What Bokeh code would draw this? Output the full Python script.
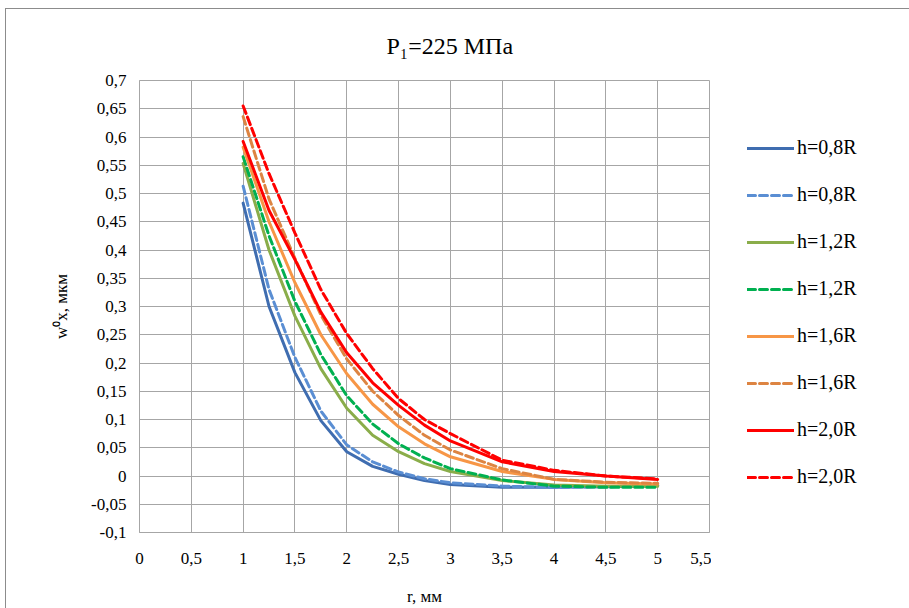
from bokeh.plotting import figure
from bokeh.layouts import row
from bokeh.models import (Legend, LegendItem, FixedTicker, CustomJSTickFormatter, Title)
from bokeh.embed import file_html
from bokeh.resources import INLINE

# ---- data ----
r = [1, 1.25, 1.5, 1.75, 2, 2.25, 2.5, 2.75, 3, 3.5, 4, 4.5, 5]

blue_solid   = [0.483, 0.300, 0.183, 0.098, 0.043, 0.017, 0.003, -0.008, -0.015, -0.020, -0.020, -0.019, -0.017]
blue_dashed  = [0.513, 0.330, 0.210, 0.115, 0.055, 0.025, 0.007, -0.005, -0.012, -0.018, -0.020, -0.019, -0.017]
green_solid  = [0.553, 0.400, 0.283, 0.190, 0.120, 0.072, 0.043, 0.022, 0.008, -0.008, -0.016, -0.018, -0.018]
green_dashed = [0.565, 0.425, 0.309, 0.215, 0.142, 0.092, 0.057, 0.032, 0.013, -0.007, -0.018, -0.020, -0.020]
orange_solid = [0.582, 0.450, 0.342, 0.250, 0.181, 0.127, 0.087, 0.057, 0.034, 0.008, -0.006, -0.012, -0.014]
orange_dashed= [0.636, 0.490, 0.385, 0.285, 0.207, 0.150, 0.107, 0.072, 0.046, 0.013, -0.006, -0.011, -0.013]
red_solid    = [0.592, 0.470, 0.383, 0.290, 0.218, 0.165, 0.125, 0.090, 0.062, 0.025, 0.008, 0.000, -0.006]
red_dashed   = [0.655, 0.535, 0.430, 0.330, 0.252, 0.190, 0.137, 0.100, 0.075, 0.028, 0.010, 0.000, -0.005]

series_labels = ["h=0,8R", "h=0,8R", "h=1,2R", "h=1,2R", "h=1,6R", "h=1,6R", "h=2,0R", "h=2,0R"]

x_ticks = [0, 0.5, 1, 1.5, 2, 2.5, 3, 3.5, 4, 4.5, 5, 5.5]
y_ticks = [-0.1, -0.05, 0, 0.05, 0.1, 0.15, 0.2, 0.25, 0.3, 0.35, 0.4, 0.45, 0.5, 0.55, 0.6, 0.65, 0.7]

title_text = "P₁=225 МПа"
x_label = "r, мм"
y_label = "w⁰x, мкм"

FONT = "'Liberation Serif', serif"
GRID = "#A6A6A6"

p = figure(width=705, height=599, output_backend="svg", toolbar_location=None,
           x_range=(0, 5.5), y_range=(-0.1, 0.7),
           min_border_left=133, min_border_right=2, min_border_top=69, min_border_bottom=75)
p.title = None
t = Title(text=title_text, align="left", text_font=FONT, text_font_size="24px",
          text_font_style="normal", text_color="#000000", offset=247, standoff=43)
p.add_layout(t, "above")

p.background_fill_color = "white"
p.border_fill_color = "white"
p.outline_line_color = GRID
p.outline_line_width = 1

for ax in (p.xaxis[0], p.yaxis[0]):
    ax.axis_line_color = GRID
    ax.major_tick_line_color = None
    ax.minor_tick_line_color = None
    ax.major_label_text_font = FONT
    ax.major_label_text_font_size = "17px"
    ax.major_label_text_color = "#000000"
    ax.axis_label_text_font = FONT
    ax.axis_label_text_font_size = "17px"
    ax.axis_label_text_font_style = "normal"
    ax.axis_label_text_color = "#000000"
    ax.formatter = CustomJSTickFormatter(code="return (Math.round(tick*100)/100).toString().replace('.', ',');")

p.xaxis[0].ticker = FixedTicker(ticks=x_ticks)
p.yaxis[0].ticker = FixedTicker(ticks=y_ticks)
p.xaxis[0].axis_label = x_label
p.yaxis[0].axis_label = y_label
p.xaxis[0].major_label_standoff = 14
p.xaxis[0].axis_label_standoff = 20
p.yaxis[0].major_label_standoff = 7
p.yaxis[0].axis_label_standoff = 17

p.xgrid[0].grid_line_color = GRID
p.ygrid[0].grid_line_color = GRID
p.xgrid[0].ticker = FixedTicker(ticks=x_ticks)
p.ygrid[0].ticker = FixedTicker(ticks=y_ticks)

styles = [
    (blue_solid, "#3F6DB0", "solid"),
    (blue_dashed, "#5A8ED3", "8 4"),
    (green_solid, "#8AAD4A", "solid"),
    (green_dashed, "#00B050", "8 4"),
    (orange_solid, "#F79646", "solid"),
    (orange_dashed, "#DD8442", "8 4"),
    (red_solid, "#FF0000", "solid"),
    (red_dashed, "#FF0000", "8 4"),
]

# legend panel: a separate figure whose view does not include the data
pl = figure(width=198, height=599, output_backend="svg", toolbar_location=None,
            x_range=(100, 101), y_range=(100, 101),
            min_border_left=0, min_border_right=0, min_border_top=0, min_border_bottom=0)
pl.title = None
pl.axis.visible = False
pl.grid.visible = False
pl.outline_line_color = None
pl.background_fill_color = "white"
pl.border_fill_color = "white"

items = []
for (ys, col, dash), lab in zip(styles, series_labels):
    p.line(r, ys, line_color=col, line_width=3, line_dash=dash, line_cap="round")
    rl = pl.line(r, ys, line_color=col, line_width=3, line_dash=dash, line_cap="round")
    items.append(LegendItem(label=lab, renderers=[rl]))

legend = Legend(items=items, location=(36, 44), padding=0, margin=0,
                glyph_width=47, glyph_height=20, label_height=20, spacing=24,
                label_standoff=3, label_text_font=FONT, label_text_font_size="20px",
                label_text_color="#000000", border_line_alpha=0, background_fill_alpha=0)
pl.add_layout(legend, "center")

layout = row(p, pl)
layout.styles = {"margin-left": "5px", "margin-top": "8px",
                 "border-left": "1px solid #8C8C8C", "border-top": "1px solid #8C8C8C"}

open("out.html", "w").write(file_html(layout, INLINE))
